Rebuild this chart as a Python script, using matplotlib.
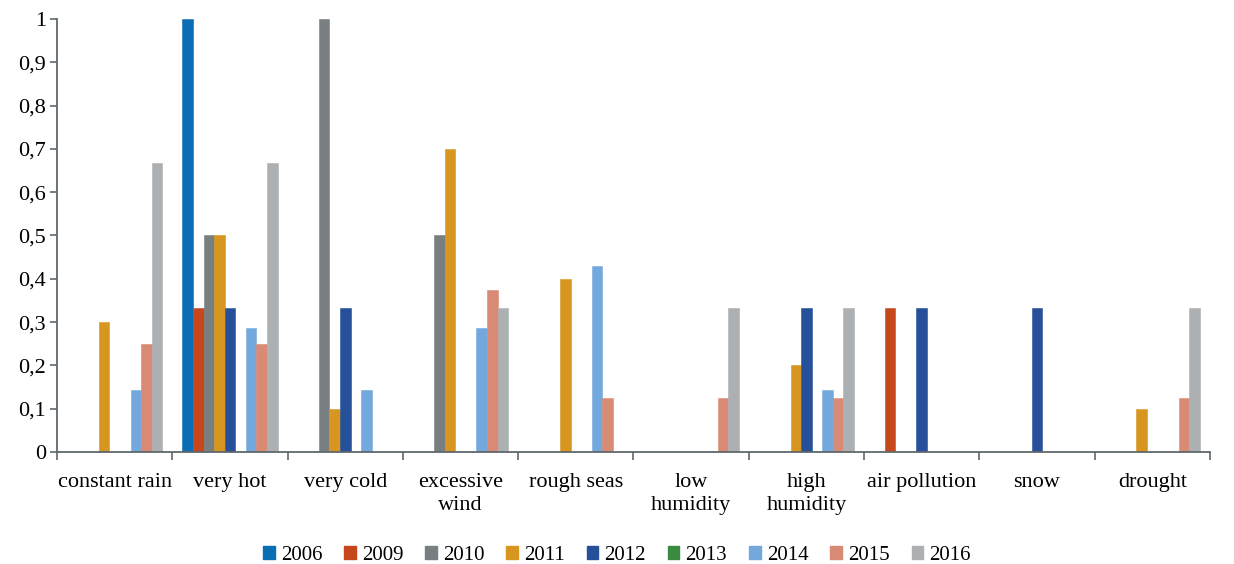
import numpy as np
import matplotlib
matplotlib.use("Agg")
import matplotlib.pyplot as plt
from matplotlib.patches import Patch

categories = ["constant rain", "very hot", "very cold", "excessive\nwind", "rough seas",
              "low\nhumidity", "high\nhumidity", "air pollution", "snow", "drought"]
years = ["2006", "2009", "2010", "2011", "2012", "2013", "2014", "2015", "2016"]

v2006 = [0, 1.0, 0, 0, 0, 0, 0, 0, 0, 0]
v2009 = [0, 0.333, 0, 0, 0, 0, 0, 0.333, 0, 0]
v2010 = [0, 0.5, 1.0, 0.5, 0, 0, 0, 0, 0, 0]
v2011 = [0.3, 0.5, 0.1, 0.7, 0.4, 0, 0.2, 0, 0, 0.1]
v2012 = [0, 0.333, 0.333, 0, 0, 0, 0.333, 0.333, 0.333, 0]
v2013 = [0, 0, 0, 0, 0, 0, 0, 0, 0, 0]
v2014 = [0.143, 0.286, 0.143, 0.286, 0.429, 0, 0.143, 0, 0, 0]
v2015 = [0.25, 0.25, 0, 0.375, 0.125, 0.125, 0.125, 0, 0, 0.125]
v2016 = [0.667, 0.667, 0, 0.333, 0, 0.333, 0.333, 0, 0, 0.333]

series = [v2006, v2009, v2010, v2011, v2012, v2013, v2014, v2015, v2016]
colors = ["#0A6EB4", "#C6471C", "#797E81", "#D7961F", "#27509A",
          "#3A8B40", "#72A8DC", "#D98A74", "#ADB0B3"]

plt.rcParams["font.family"] = ["Liberation Serif", "DejaVu Serif"]

fig = plt.figure(figsize=(12.34, 5.64), dpi=100)
ax = fig.add_axes([0.0462, 0.1986, 0.9343, 0.7677])

n = len(years)
gap = 1.9
bw = 1.0 / (n + gap)
x = np.arange(len(categories))
for i, (vals, c) in enumerate(zip(series, colors)):
    offs = -0.5 + gap * bw / 2 + (i + 0.5) * bw
    ax.bar(x + offs, vals, width=bw, color=c, edgecolor=c, linewidth=0.4, zorder=2)

ax.set_xlim(-0.5, len(categories) - 0.5)
ax.set_ylim(0, 1)
yt = np.round(np.arange(0, 1.01, 0.1), 1)
ax.set_yticks(yt)
ax.set_yticklabels(["0" if v == 0 else ("1" if v == 1 else f"{v:.1f}".replace(".", ",")) for v in yt],
                   fontsize=16)

ax.set_xticks(np.arange(-0.5, len(categories), 1.0))
ax.set_xticklabels([])
ax.set_xticks(x, minor=True)
ax.set_xticklabels(categories, minor=True, fontsize=16, linespacing=1.3)
ax.tick_params(axis="x", which="minor", length=0, pad=15)
ax.tick_params(axis="x", which="major", length=6, width=1.2, color="#5F686C", direction="out")
ax.tick_params(axis="y", length=5, width=1.2, color="#5F686C", direction="out", pad=3)

for s in ["top", "right"]:
    ax.spines[s].set_visible(False)
for s in ["left", "bottom"]:
    ax.spines[s].set_color("#5F686C")
    ax.spines[s].set_linewidth(1.3)

handles = [Patch(facecolor=c, edgecolor=c, label=y) for y, c in zip(years, colors)]
fig.legend(handles=handles, loc="center", bbox_to_anchor=(0.5, 0.015), ncol=n,
           frameon=False, fontsize=15, handlelength=0.55, handleheight=0.55,
           handletextpad=0.3, columnspacing=1.05)

fig.savefig("out.png", dpi=100, facecolor="white")
